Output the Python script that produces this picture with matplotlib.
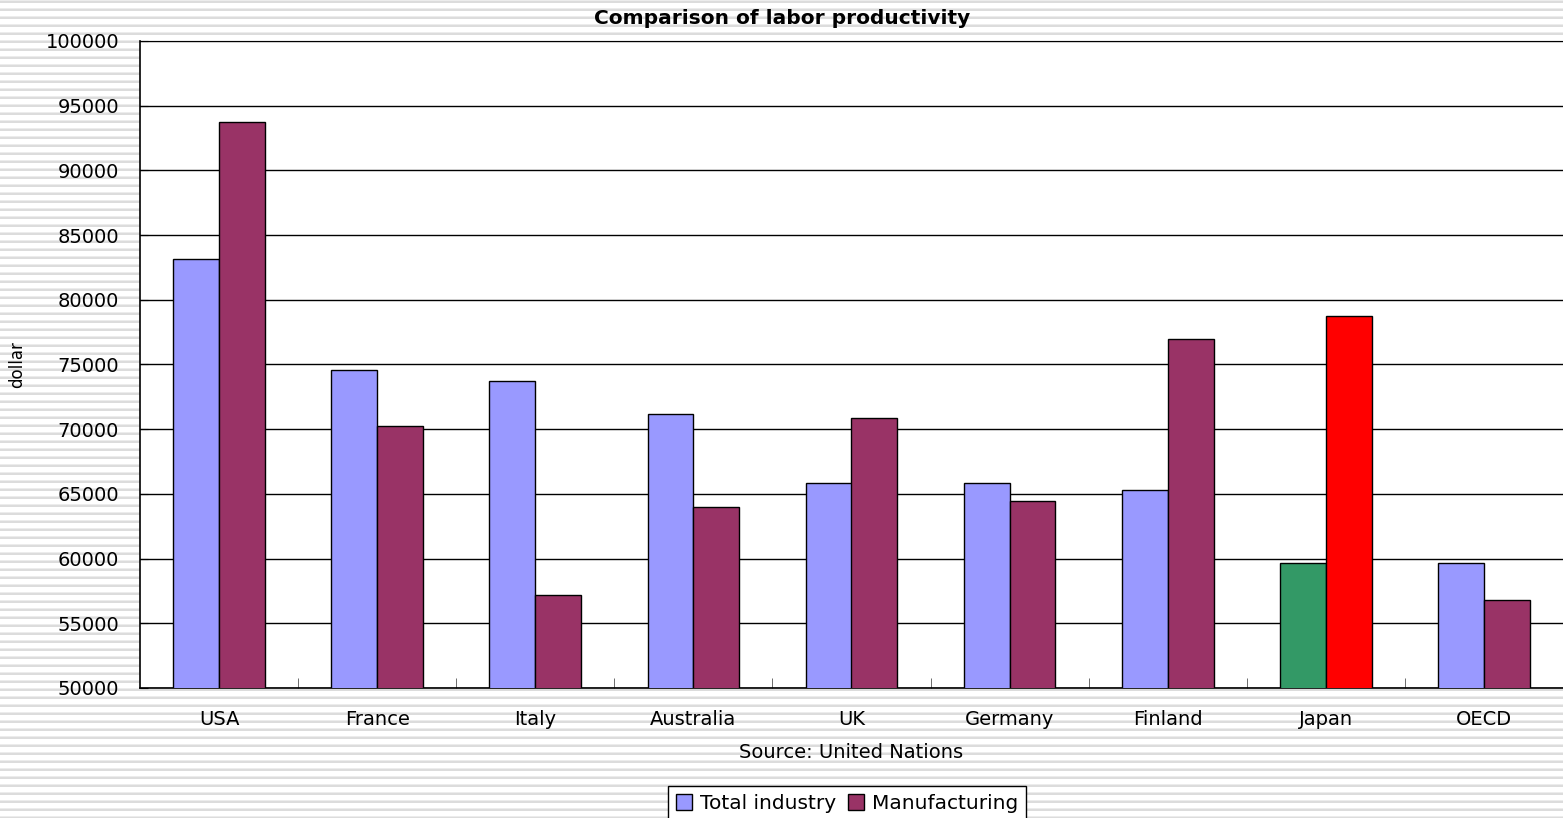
import numpy as np
import matplotlib.pyplot as plt
from matplotlib.patches import Patch

# Data
countries = ['USA', 'France', 'Italy', 'Australia', 'UK', 'Germany', 'Finland', 'Japan', 'OECD']
total_industry = [83150, 74600, 73700, 71200, 65850, 65850, 65300, 59650, 59650]
manufacturing = [93750, 70250, 57200, 64000, 70850, 64450, 76950, 78750, 56800]

blue = '#9999FF'
plum = '#993366'
# Japan bars are highlighted in other colours
total_colors = [blue] * 7 + ['#339966', blue]
manuf_colors = [plum] * 7 + ['#FF0000', plum]

plt.rcParams['font.family'] = ['DejaVu Sans']

fig = plt.figure(figsize=(15.63, 8.18), dpi=100)

# striped background
bg = fig.add_axes([0, 0, 1, 1], zorder=-1)
bg.set_xlim(0, 1)
bg.set_ylim(818, 0)
for y in range(0, 818, 8):
    bg.axhspan(y, y + 1, color='#ececec', lw=0)
    bg.axhspan(y + 1, y + 2.5, color='#dcdcdc', lw=0)
bg.axis('off')

ax = fig.add_axes([140 / 1563, 1 - 688 / 818, 1 - 140 / 1563, (688 - 41) / 818])
ax.set_facecolor('white')

x = np.arange(len(countries))
w = 0.29
ax.bar(x - w / 2, total_industry, w, color=total_colors, edgecolor='black', linewidth=1, zorder=3)
ax.bar(x + w / 2, manufacturing, w, color=manuf_colors, edgecolor='black', linewidth=1, zorder=3)

ax.set_xlim(-0.5, len(countries) - 0.5)
ax.set_ylim(50000, 100000)
ax.set_yticks(range(50000, 100001, 5000))
ax.tick_params(axis='y', direction='in', length=6, labelsize=14, pad=15)
ax.set_xticks(x)
ax.set_xticklabels(countries, fontsize=14)
ax.tick_params(axis='x', which='major', length=0, pad=16)
ax.set_xticks(np.arange(0.5, len(countries) - 0.5, 1), minor=True)
ax.tick_params(axis='x', which='minor', direction='in', length=7, color='#555555')

ax.grid(axis='y', color='black', linewidth=1, zorder=0)
ax.spines['top'].set_visible(False)
ax.spines['right'].set_visible(False)
ax.spines['left'].set_linewidth(1.2)
ax.spines['bottom'].set_linewidth(1.2)

ax.set_xlabel('Source: United Nations', fontsize=14, labelpad=10)
ax.set_ylabel('dollar', fontsize=12, labelpad=14)
fig.text(782 / 1563, 1 - 18 / 818, 'Comparison of labor productivity', ha='center', va='center',
         fontsize=14.5, fontweight='bold')

handles = [Patch(facecolor=blue, edgecolor='black', label='Total industry'),
           Patch(facecolor=plum, edgecolor='black', label='Manufacturing')]
leg = fig.legend(handles=handles, loc='upper center', bbox_to_anchor=(847 / 1563, 1 - 786 / 818),
                 ncol=2, fontsize=14.5, frameon=True, fancybox=False, framealpha=1,
                 handlelength=0.8, handleheight=0.8, handletextpad=0.4, columnspacing=0.6,
                 borderpad=0.4, borderaxespad=0)
leg.get_frame().set_edgecolor('black')
leg.get_frame().set_linewidth(1)

fig.savefig('out.png', dpi=100)
